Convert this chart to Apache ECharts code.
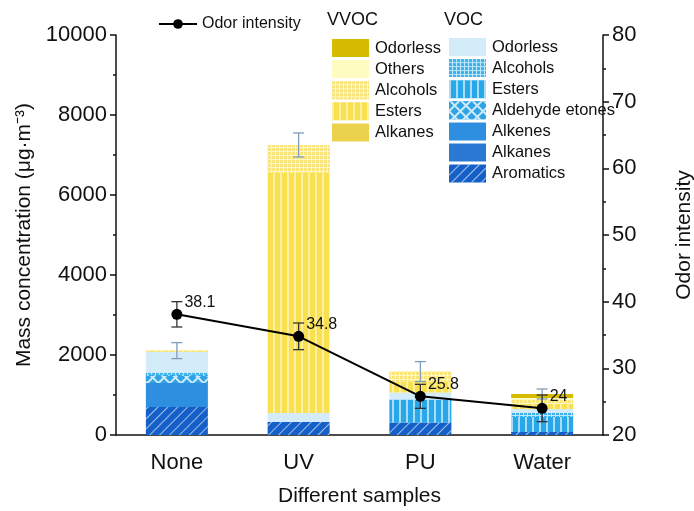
<!DOCTYPE html>
<html>
<head>
<meta charset="utf-8">
<script src="https://cdn.jsdelivr.net/npm/echarts@6/dist/echarts.min.js"></script>
<style>html,body{margin:0;padding:0;background:#fff}#c{width:694px;height:511px}</style>
</head>
<body>
<div id="c"></div>
<script>
const categories = ['None', 'UV', 'PU', 'Water'];
// VOC components (bottom -> top)
const vocAromatics = [700, 325, 310, 75];
const vocAlkanes = [0, 0, 0, 0];
const vocAlkenes = [600, 0, 0, 0];
const vocAldehydeKetones = [175, 0, 0, 0];
const vocEsters = [40, 0, 575, 375];
const vocAlcohols = [40, 0, 0, 100];
const vocOdorless = [525, 225, 175, 100];
// VVOC components
const vvocAlkanes = [0, 0, 0, 0];
const vvocEsters = [30, 6000, 275, 125];
const vvocAlcohols = [0, 700, 250, 100];
const vvocOthers = [0, 0, 0, 50];
const vvocOdorless = [0, 0, 0, 100];
// Error of total mass concentration
const massError = [200, 300, 250, 125];
// Odor intensity
const odorIntensity = [38.1, 34.8, 25.8, 24];
const odorError = [1.9, 2, 1.8, 2];
const leftTicks = [0, 2000, 4000, 6000, 8000, 10000];
const rightTicks = [20, 30, 40, 50, 60, 70, 80];

const FONT = 'Liberation Sans, Arial, sans-serif';
const W = 'rgba(255,255,255,0.6)';

const stackDefs = [
  {name: 'VOC|Aromatics', data: vocAromatics, color: '#1560c8',
    decal: {symbol: 'rect', symbolSize: 1, color: W, dashArrayX: [1, 0], dashArrayY: [1, 5.5], rotation: -Math.PI / 4}},
  {name: 'VOC|Alkanes', data: vocAlkanes, color: '#2a7ad4'},
  {name: 'VOC|Alkenes', data: vocAlkenes, color: '#2e8fe0'},
  {name: 'VOC|Aldehyde etones', data: vocAldehydeKetones, color: '#2ea3e6',
    decal: {symbol: 'rect', symbolSize: 1, color: '#2ea3e6', backgroundColor: '#cfeafa', dashArrayX: [6, 1.2], dashArrayY: [6, 1.2], rotation: Math.PI / 4}},
  {name: 'VOC|Esters', data: vocEsters, color: '#28a8e8',
    decal: {symbol: 'rect', symbolSize: 1, color: W, dashArrayX: [1.2, 4.5], dashArrayY: [1, 0]}},
  {name: 'VOC|Alcohols', data: vocAlcohols, color: '#3ab3ec',
    decal: {symbol: 'rect', symbolSize: 1, color: '#3ab3ec', backgroundColor: '#bfe6fa', dashArrayX: [3, 1], dashArrayY: [3, 1]}},
  {name: 'VOC|Odorless', data: vocOdorless, color: '#d4ebf9'},
  {name: 'VVOC|Alkanes', data: vvocAlkanes, color: '#ebd24c'},
  {name: 'VVOC|Esters', data: vvocEsters, color: '#f8e04e',
    decal: {symbol: 'rect', symbolSize: 1, color: 'rgba(255,255,255,0.5)', dashArrayX: [1.2, 4.5], dashArrayY: [1, 0]}},
  {name: 'VVOC|Alcohols', data: vvocAlcohols, color: '#fae57a',
    decal: {symbol: 'rect', symbolSize: 1, color: '#fae57a', backgroundColor: '#fff6c8', dashArrayX: [3, 1], dashArrayY: [3, 1]}},
  {name: 'VVOC|Others', data: vvocOthers, color: '#fffcc2'},
  {name: 'VVOC|Odorless', data: vvocOdorless, color: '#d6bc00'}
];

const barSeries = stackDefs.map(d => ({
  name: d.name,
  type: 'bar',
  stack: 'total',
  barWidth: 62,
  data: d.data,
  itemStyle: Object.assign({color: d.color}, d.decal ? {decal: d.decal} : {}),
  emphasis: {disabled: true},
  z: 2
}));

const totals = categories.map((_, i) => stackDefs.reduce((s, d) => s + d.data[i], 0));

function errRender(color, hw) {
  return function (params, api) {
    const x = api.value(0), y = api.value(1), e = api.value(2);
    const t = api.coord([x, y + e]);
    const b = api.coord([x, y - e]);
    const st = {stroke: color, lineWidth: 1.3};
    return {type: 'group', children: [
      {type: 'line', shape: {x1: t[0], y1: t[1], x2: b[0], y2: b[1]}, style: st},
      {type: 'line', shape: {x1: t[0] - hw, y1: t[1], x2: t[0] + hw, y2: t[1]}, style: st},
      {type: 'line', shape: {x1: b[0] - hw, y1: b[1], x2: b[0] + hw, y2: b[1]}, style: st}
    ]};
  };
}

const vvocNames = ['VVOC|Odorless', 'VVOC|Others', 'VVOC|Alcohols', 'VVOC|Esters', 'VVOC|Alkanes'];
const vocNames = ['VOC|Odorless', 'VOC|Alcohols', 'VOC|Esters', 'VOC|Aldehyde etones', 'VOC|Alkenes', 'VOC|Alkanes', 'VOC|Aromatics'];

const legendCommon = {
  orient: 'vertical', itemWidth: 37, itemHeight: 18, itemGap: 3.1, icon: 'rect',
  selectedMode: false,
  formatter: n => n.split('|')[1],
  textStyle: {fontFamily: FONT, fontSize: 16.5, color: '#111', padding: [0, 0, 0, 1]}
};

const chart = echarts.init(document.getElementById('c'));
chart.setOption({
  animation: false,
  textStyle: {fontFamily: FONT},
  grid: {left: 116, right: 91, top: 35, bottom: 76, outerBoundsMode: 'none', containLabel: false},
  legend: [
    Object.assign({}, legendCommon, {data: vvocNames, left: 327, top: 34}),
    Object.assign({}, legendCommon, {data: vocNames, left: 444, top: 33}),
    {data: ['Odor intensity'], left: 153, top: 11, itemWidth: 38, itemHeight: 12, selectedMode: false,
      textStyle: {fontFamily: FONT, fontSize: 16, color: '#111'}}
  ],
  graphic: [
    {type: 'text', left: 327, top: 11, style: {text: 'VVOC', fontFamily: FONT, fontSize: 18, fill: '#111'}},
    {type: 'text', left: 444, top: 11, style: {text: 'VOC', fontFamily: FONT, fontSize: 18, fill: '#111'}}
  ],
  xAxis: {
    type: 'category', data: categories,
    name: 'Different samples', nameLocation: 'middle', nameGap: 51,
    nameTextStyle: {fontSize: 21, color: '#111', fontFamily: FONT},
    axisLine: {lineStyle: {color: '#111', width: 1.5}},
    axisTick: {alignWithLabel: true, length: 6, lineStyle: {color: '#111', width: 1.5}},
    axisLabel: {fontSize: 22, color: '#111', margin: 17, fontFamily: FONT}
  },
  yAxis: [
    {
      type: 'value', min: 0, max: 10000, interval: 2000,
      name: 'Mass concentration (μg·m⁻³)', nameLocation: 'middle', nameGap: 73,
      nameTextStyle: {fontSize: 21, color: '#111', fontFamily: FONT},
      axisLine: {show: true, lineStyle: {color: '#111', width: 1.5}},
      axisTick: {show: true, length: 6, lineStyle: {color: '#111', width: 1.5}},
      minorTick: {show: true, splitNumber: 2, length: 3, lineStyle: {color: '#111', width: 1.5}},
      axisLabel: {fontSize: 22, color: '#111', margin: 9, fontFamily: FONT, formatter: v => String(v)},
      splitLine: {show: false}
    },
    {
      type: 'value', min: 20, max: 80, interval: 10, position: 'right',
      name: 'Odor intensity', nameLocation: 'middle', nameGap: 71,
      nameTextStyle: {fontSize: 21, color: '#111', fontFamily: FONT},
      axisLine: {show: true, lineStyle: {color: '#111', width: 1.5}},
      axisTick: {show: true, length: 6, lineStyle: {color: '#111', width: 1.5}},
      minorTick: {show: true, splitNumber: 2, length: 3, lineStyle: {color: '#111', width: 1.5}},
      axisLabel: {fontSize: 22, color: '#111', margin: 9, fontFamily: FONT},
      splitLine: {show: false}
    }
  ],
  series: barSeries.concat([
    {
      name: 'massErr', type: 'custom', yAxisIndex: 0, z: 5,
      renderItem: errRender('#7f9cba', 5.5),
      data: categories.map((_, i) => [i, totals[i], massError[i]])
    },
    {
      name: 'odorErr', type: 'custom', yAxisIndex: 1, z: 6,
      renderItem: errRender('#333', 5.5),
      data: categories.map((_, i) => [i, odorIntensity[i], odorError[i]])
    },
    {
      name: 'Odor intensity', type: 'line', yAxisIndex: 1, z: 10,
      data: odorIntensity, symbol: 'circle', symbolSize: 11,
      itemStyle: {color: '#000'}, lineStyle: {color: '#000', width: 2},
      label: {show: true, position: 'right', offset: [-3, -12], fontSize: 16, color: '#111', fontFamily: FONT},
      emphasis: {disabled: true}
    }
  ])
});
</script>
</body>
</html>
